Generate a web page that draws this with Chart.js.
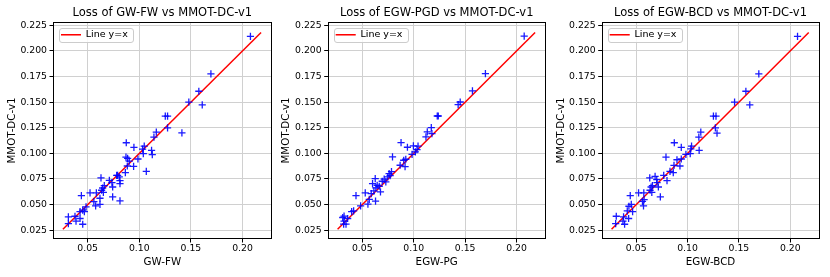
<!DOCTYPE html>
<html>
<head>
<meta charset="utf-8">
<script src="https://cdn.jsdelivr.net/npm/chart.js@4.4.1/dist/chart.umd.min.js"></script>
<style>
  body { margin: 0; background: #fff; }
  #wrap { position: relative; width: 830px; height: 277px; }
  canvas { position: absolute; top: 0; }
</style>
</head>
<body>
<div id="wrap">
  <canvas id="c1"></canvas>
  <canvas id="c2"></canvas>
  <canvas id="c3"></canvas>
</div>
<script>
const titles = ["Loss of GW-FW vs MMOT-DC-v1", "Loss of EGW-PGD vs MMOT-DC-v1", "Loss of EGW-BCD vs MMOT-DC-v1"];
const xAxisTitles = ["GW-FW", "EGW-PG", "EGW-BCD"];
const yAxisTitle = "MMOT-DC-v1";
const legendLabel = "Line y=x";

const xTicks = [0.05, 0.10, 0.15, 0.20];
const xTickLabels = ["0.05", "0.10", "0.15", "0.20"];
const yTicks = [0.025, 0.05, 0.075, 0.1, 0.125, 0.15, 0.175, 0.2, 0.225];
const yTickLabels = ["0.025", "0.050", "0.075", "0.100", "0.125", "0.150", "0.175", "0.200", "0.225"];

// y = x reference line ends
const lineXY = [0.026, 0.218];

// GW-FW vs MMOT-DC-v1
const gwfwX = [0.2077, 0.1694, 0.1577, 0.148, 0.161, 0.1252, 0.1274, 0.1274, 0.1165, 0.1142, 0.1413, 0.0874, 0.0948, 0.1048, 0.1032, 0.1119, 0.1126, 0.1039, 0.0871, 0.0887, 0.0987, 0.0903, 0.0945, 0.0884, 0.1068, 0.0865, 0.0781, 0.079, 0.0806, 0.0813, 0.0813, 0.071, 0.0735, 0.0742, 0.0629, 0.0661, 0.0645, 0.0635, 0.0652, 0.0584, 0.0523, 0.0619, 0.0742, 0.0813, 0.0439, 0.056, 0.0619, 0.0577, 0.0484, 0.0452, 0.0426, 0.0468, 0.0377, 0.0313, 0.0426, 0.0387, 0.0313, 0.0452];
const gwfwY = [0.2143, 0.1776, 0.1607, 0.150, 0.1474, 0.1364, 0.1364, 0.125, 0.1208, 0.1159, 0.120, 0.1104, 0.1058, 0.1071, 0.1042, 0.1029, 0.0987, 0.0997, 0.0964, 0.0951, 0.0945, 0.0925, 0.0873, 0.0877, 0.0825, 0.0812, 0.0786, 0.0786, 0.077, 0.0734, 0.0705, 0.0737, 0.0714, 0.0672, 0.076, 0.0685, 0.0662, 0.064, 0.062, 0.0614, 0.0614, 0.0562, 0.0575, 0.0536, 0.0588, 0.0529, 0.0503, 0.0487, 0.0477, 0.0445, 0.0432, 0.0432, 0.0386, 0.038, 0.0364, 0.0338, 0.0315, 0.0308];

// EGW-PG vs MMOT-DC-v1
const pgX = [0.2074, 0.1697, 0.1571, 0.1452, 0.1432, 0.1229, 0.1239, 0.1171, 0.1132, 0.1177, 0.1119, 0.0877, 0.0939, 0.0997, 0.1042, 0.1032, 0.1016, 0.0984, 0.0794, 0.0903, 0.0923, 0.0868, 0.0916, 0.0784, 0.0761, 0.0771, 0.0748, 0.0713, 0.0729, 0.0694, 0.0626, 0.060, 0.0645, 0.0665, 0.0632, 0.0677, 0.0613, 0.0587, 0.0529, 0.0439, 0.0629, 0.0555, 0.0568, 0.0484, 0.0416, 0.0397, 0.0323, 0.031, 0.0358, 0.0323, 0.0342, 0.0319];
const pgY = [0.2146, 0.1778, 0.161, 0.1502, 0.1476, 0.1365, 0.1365, 0.1252, 0.121, 0.1193, 0.1161, 0.1105, 0.106, 0.1073, 0.107, 0.1037, 0.1014, 0.0991, 0.0965, 0.0933, 0.0943, 0.0884, 0.0871, 0.0822, 0.0803, 0.0783, 0.077, 0.0748, 0.0722, 0.0728, 0.0754, 0.0705, 0.0689, 0.0679, 0.0663, 0.0624, 0.0634, 0.0608, 0.0614, 0.0588, 0.0533, 0.0504, 0.055, 0.0487, 0.0439, 0.0432, 0.0387, 0.0374, 0.0364, 0.0338, 0.0309, 0.0309];

// EGW-BCD vs MMOT-DC-v1
const bcdX = [0.2071, 0.1694, 0.1568, 0.1458, 0.1606, 0.1252, 0.1277, 0.1271, 0.1287, 0.1129, 0.111, 0.1113, 0.0871, 0.0939, 0.1039, 0.1032, 0.1026, 0.0984, 0.079, 0.0897, 0.0939, 0.0926, 0.0868, 0.0861, 0.0829, 0.080, 0.0768, 0.0684, 0.070, 0.0703, 0.0716, 0.0632, 0.0658, 0.0645, 0.0635, 0.0652, 0.0574, 0.0523, 0.0735, 0.0442, 0.0561, 0.0577, 0.0571, 0.0452, 0.0465, 0.0413, 0.0429, 0.0426, 0.0377, 0.0306, 0.0371, 0.030, 0.0387];
const bcdY = [0.2143, 0.1776, 0.1607, 0.150, 0.1474, 0.1364, 0.1364, 0.125, 0.1198, 0.1208, 0.1159, 0.1029, 0.1104, 0.1058, 0.1071, 0.1045, 0.0997, 0.099, 0.0964, 0.0938, 0.0945, 0.0877, 0.0883, 0.0812, 0.0825, 0.0734, 0.0786, 0.0776, 0.0744, 0.0714, 0.0672, 0.076, 0.0685, 0.0672, 0.064, 0.062, 0.0614, 0.0614, 0.0575, 0.0588, 0.0532, 0.0549, 0.0487, 0.0503, 0.0432, 0.0439, 0.0484, 0.0364, 0.038, 0.0386, 0.0338, 0.0315, 0.0308];

const axisMin = 0.0164;
const axisMax = 0.2283;

Chart.defaults.font.family = "'DejaVu Sans', sans-serif";
Chart.defaults.color = "#000";

// full box of spines like matplotlib
const spines = {
  id: "spines",
  afterDraw(chart) {
    const { ctx, chartArea: a } = chart;
    ctx.save();
    ctx.strokeStyle = "#000";
    ctx.lineWidth = 1;
    ctx.strokeRect(Math.round(a.left) + 0.5, Math.round(a.top) + 0.5,
      Math.round(a.right - a.left) - 1, Math.round(a.bottom - a.top) - 1);
    ctx.restore();
  }
};

// legend inside the plot: move it to the chart area top, put a white
// rounded box behind it and draw it again above the data
const legendFrame = {
  id: "legendFrame",
  afterLayout(chart) {
    const lg = chart.legend;
    if (!lg) return;
    const dy = chart.chartArea.top - lg.top;
    lg.top += dy;
    lg.bottom += dy;
    (lg.legendHitBoxes || []).forEach((h) => { h.top += dy; });
  },
  afterDatasetsDraw(chart) {
    const lg = chart.legend;
    if (!lg || !lg.legendHitBoxes || !lg.legendHitBoxes.length) return;
    const hb = lg.legendHitBoxes[0];
    const ctx = chart.ctx;
    const x = Math.round(hb.left - 2) + 0.5;
    const y = Math.round(hb.top - 2) + 0.5;
    const w = Math.round(hb.width + 7);
    const h = Math.round(hb.height + 4);
    ctx.save();
    ctx.fillStyle = "rgba(255,255,255,0.85)";
    ctx.strokeStyle = "#cccccc";
    ctx.lineWidth = 1;
    ctx.beginPath();
    ctx.roundRect(x, y, w, h, 2.5);
    ctx.fill();
    ctx.stroke();
    ctx.restore();
    lg.draw();
  }
};

const panels = [
  { id: "c1", left: 0,   width: 277, plotLeft: 53,    plotRight: 272,   xs: gwfwX, ys: gwfwY, yTitlePad: 6.5 },
  { id: "c2", left: 277, width: 275, plotLeft: 327.7, plotRight: 545.7, xs: pgX,   ys: pgY,   yTitlePad: 3.5 },
  { id: "c3", left: 552, width: 278, plotLeft: 601.7, plotRight: 819.3, xs: bcdX,  ys: bcdY,  yTitlePad: 2.8 }
];

panels.forEach((p, i) => {
  const canvas = document.getElementById(p.id);
  canvas.width = p.width;
  canvas.height = 277;
  canvas.style.left = p.left + "px";

  const yAxisWidth = p.plotLeft - p.left;
  const rightPad = p.left + p.width - p.plotRight;

  new Chart(canvas.getContext("2d"), {
    type: "scatter",
    data: {
      datasets: [
        {
          label: "points",
          data: p.xs.map((x, k) => ({ x: x, y: p.ys[k] })),
          pointStyle: "cross",
          pointRadius: 3.6,
          borderWidth: 1.3,
          borderColor: "rgba(0,0,255,0.9)",
          backgroundColor: "rgba(0,0,255,0.9)",
        },
        {
          type: "line",
          label: legendLabel,
          data: lineXY.map((v) => ({ x: v, y: v })),
          borderColor: "#ff0000",
          backgroundColor: "#ff0000",
          borderWidth: 1.5,
          pointRadius: 0,
          fill: false,
        },
      ],
    },
    options: {
      responsive: false,
      animation: false,
      devicePixelRatio: 1,
      layout: { padding: { left: 0, right: rightPad, top: 0, bottom: 0 } },
      plugins: {
        title: {
          display: true,
          text: titles[i],
          fullSize: false,
          color: "#000",
          font: { size: 11.5, weight: "normal" },
          padding: { top: 6.4, bottom: 1.8 },
        },
        legend: {
          position: "chartArea",
          align: "start",
          labels: {
            usePointStyle: true,
            pointStyle: "line",
            pointStyleWidth: 20,
            padding: 8,
            color: "#000",
            font: { size: 9.5 },
            filter: (item) => item.datasetIndex === 1,
          },
        },
        tooltip: { enabled: false },
      },
      scales: {
        x: {
          type: "linear",
          min: axisMin,
          max: axisMax,
          afterBuildTicks: (ax) => { ax.ticks = xTicks.map((v) => ({ value: v })); },
          afterFit: (ax) => { ax.height = 277 - 239; },
          ticks: {
            autoSkip: false,
            maxRotation: 0,
            padding: 1,
            font: { size: 9.3 },
            callback: (v, k) => xTickLabels[k],
          },
          grid: { color: "#d0d0d0", lineWidth: 1, tickLength: 3.5, tickColor: "#000" },
          border: { display: false },
          title: {
            display: true,
            text: xAxisTitles[i],
            font: { size: 10.3 },
            padding: { top: 0, bottom: 8.5 },
          },
        },
        y: {
          type: "linear",
          min: axisMin,
          max: axisMax,
          afterBuildTicks: (ax) => { ax.ticks = yTicks.map((v) => ({ value: v })); },
          afterFit: (ax) => { ax.width = yAxisWidth; },
          ticks: {
            autoSkip: false,
            padding: 2.5,
            font: { size: 9.3 },
            callback: (v, k) => yTickLabels[k],
          },
          grid: { color: "#d0d0d0", lineWidth: 1, tickLength: 3.5, tickColor: "#000" },
          border: { display: false },
          title: {
            display: true,
            text: yAxisTitle,
            font: { size: 10.3 },
            padding: { top: p.yTitlePad, bottom: 0 },
          },
        },
      },
    },
    plugins: [legendFrame, spines],
  });
});
</script>
</body>
</html>
